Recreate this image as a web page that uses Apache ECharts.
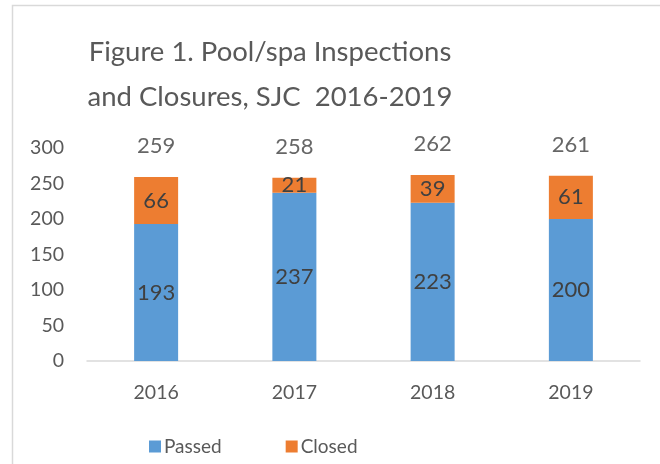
<!DOCTYPE html>
<html><head><meta charset="utf-8">
<script src="https://cdn.jsdelivr.net/npm/echarts@6/dist/echarts.min.js"></script>
<style>html,body{margin:0;padding:0;background:#fff}#c{width:660px;height:464px}</style>
</head><body><div id="c"></div>
<script>
const categories = ['2016', '2017', '2018', '2019'];
const passed = [193, 237, 223, 200];
const closed = [66, 21, 39, 61];
const totals = [259, 258, 262, 261];
const yTicks = [0, 50, 100, 150, 200, 250, 300];

const FONT = 'Lato';
const chart = echarts.init(document.getElementById('c'), null, {renderer: 'canvas'});
chart.setOption({
  backgroundColor: '#fff',
  animation: false,
  textStyle: {fontFamily: FONT},
  graphic: [{
    type: 'rect', left: 10, top: 3, shape: {width: 700, height: 500},
    style: {fill: 'none', stroke: '#d9d9d9', lineWidth: 1.5}, silent: true
  }, {
    type: 'text', x: 270, y: 30,
    style: {text: 'Figure 1. Pool/spa Inspections\nand Closures, SJC  2016-2019', fill: '#595959',
      font: '27.5px Lato', align: 'center', lineHeight: 45}
  }],
  grid: {left: 87, right: 20, top: 148, bottom: 103},
  legend: {
    data: ['Passed', 'Closed'], left: 144, top: 432, itemWidth: 12, itemHeight: 12, itemGap: 64,
    icon: 'rect', textStyle: {fontFamily: FONT, fontSize: 19, color: '#595959', padding: [0, 0, 0, -2]}
  },
  xAxis: {
    type: 'category', data: categories,
    axisLine: {lineStyle: {color: '#d9d9d9', width: 1.5}}, axisTick: {show: false},
    axisLabel: {fontFamily: FONT, fontSize: 19.5, color: '#595959', margin: 22}
  },
  yAxis: {
    type: 'value', min: yTicks[0], max: yTicks[yTicks.length - 1], interval: 50,
    axisLine: {show: false}, axisTick: {show: false}, splitLine: {show: false},
    axisLabel: {fontFamily: FONT, fontSize: 19.5, color: '#595959', margin: 23}
  },
  series: [{
    name: 'Passed', type: 'bar', stack: 's', data: passed, barWidth: 44,
    itemStyle: {color: '#5B9BD5'},
    label: {show: true, position: 'inside', fontFamily: FONT, fontSize: 22, color: '#404040'}
  }, {
    name: 'Closed', type: 'bar', stack: 's', data: closed, barWidth: 44,
    itemStyle: {color: '#ED7D31'},
    label: {show: true, position: 'inside', fontFamily: FONT, fontSize: 22, color: '#404040'}
  }, {
    name: 'Total', type: 'scatter', data: totals, symbolSize: 0, silent: true,
    label: {show: true, position: 'top', distance: 20, fontFamily: FONT, fontSize: 22, color: '#404040'}
  }]
});
</script></body></html>
